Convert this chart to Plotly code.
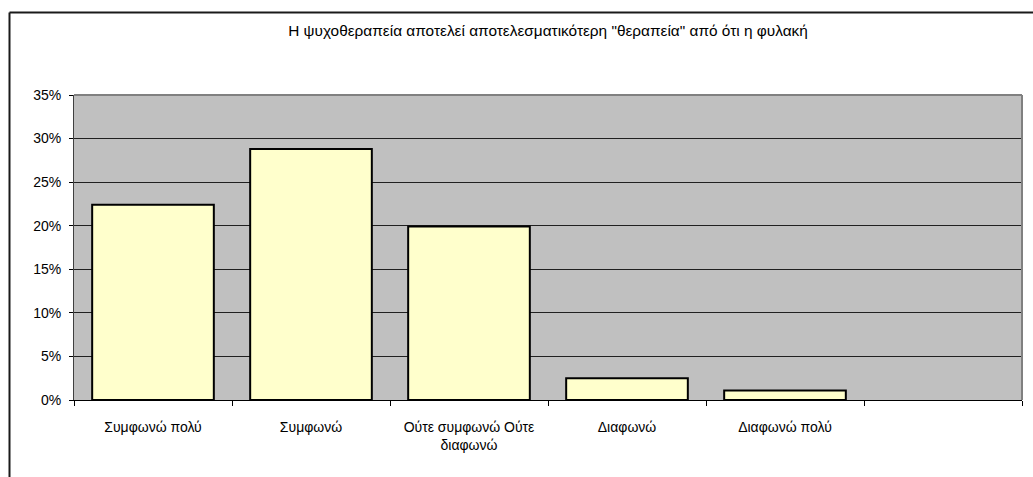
import plotly.graph_objects as go

# Survey answers and share of respondents
categories = ["Συμφωνώ πολύ", "Συμφωνώ", "Ούτε συμφωνώ Ούτε<br>διαφωνώ", "Διαφωνώ", "Διαφωνώ πολύ"]
shares = [0.224, 0.288, 0.199, 0.025, 0.011]
# an extra empty slot on the category axis
slots = categories + [" "]
y_ticks = [0, 0.05, 0.10, 0.15, 0.20, 0.25, 0.30, 0.35]
title_text = 'Η ψυχοθεραπεία αποτελεί αποτελεσματικότερη "θεραπεία" από ότι η φυλακή'

FONT = "Liberation Sans, Arial, sans-serif"

fig = go.Figure(
    go.Bar(
        x=categories,
        y=shares,
        marker=dict(color="#FFFFCC", line=dict(color="#000000", width=2)),
        hoverinfo="x+y",
    )
)

W, H = 1033, 477
L, R, T, B = 74, 11, 95, 77
pw, ph = W - L - R, H - T - B

fig.update_layout(
    width=W,
    height=H,
    margin=dict(l=L, r=R, t=T, b=B),
    paper_bgcolor="white",
    plot_bgcolor="#C0C0C0",
    bargap=0.23,
    showlegend=False,
    font=dict(family=FONT, size=14, color="black"),
    title=dict(
        text=title_text,
        font=dict(family=FONT, size=15.4, color="black"),
        x=0.5,
        xref="paper",
        xanchor="center",
        y=1 - 31 / H,
        yref="container",
        yanchor="middle",
    ),
    xaxis=dict(
        type="category",
        categoryorder="array",
        categoryarray=slots,
        range=[-0.5, len(slots) - 0.5],
        tickson="boundaries",
        ticks="outside",
        ticklen=5,
        tickcolor="#000000",
        showline=True,
        linecolor="#000000",
        linewidth=1,
        showgrid=False,
        tickfont=dict(family=FONT, size=14, color="black"),
        ticklabelstandoff=14,
        fixedrange=True,
    ),
    yaxis=dict(
        range=[0, 0.35],
        tickvals=y_ticks,
        tickformat=".0%",
        ticks="outside",
        ticklen=4,
        tickcolor="#000000",
        showline=True,
        linecolor="#404040",
        linewidth=1,
        showgrid=True,
        gridcolor="#202020",
        gridwidth=1,
        zeroline=False,
        tickfont=dict(family=FONT, size=14, color="black"),
        ticklabelstandoff=5,
        fixedrange=True,
    ),
    shapes=[
        # plot-area frame on top and right
        dict(type="line", xref="paper", yref="paper", x0=0, x1=1, y0=1, y1=1,
             line=dict(color="#808080", width=2)),
        dict(type="line", xref="paper", yref="paper", x0=1, x1=1, y0=0, y1=1,
             line=dict(color="#808080", width=2)),
        # chart-area border (left and top edges)
        dict(type="line", xref="paper", yref="paper",
             x0=(9.5 - L) / pw, x1=(9.5 - L) / pw, y0=-1, y1=(H - B - 12.5) / ph,
             line=dict(color="#1a1a1a", width=2)),
        dict(type="line", xref="paper", yref="paper",
             x0=(9.5 - L) / pw, x1=2, y0=(H - B - 12.5) / ph, y1=(H - B - 12.5) / ph,
             line=dict(color="#1a1a1a", width=2)),
    ],
)

fig.write_html("out.html")
